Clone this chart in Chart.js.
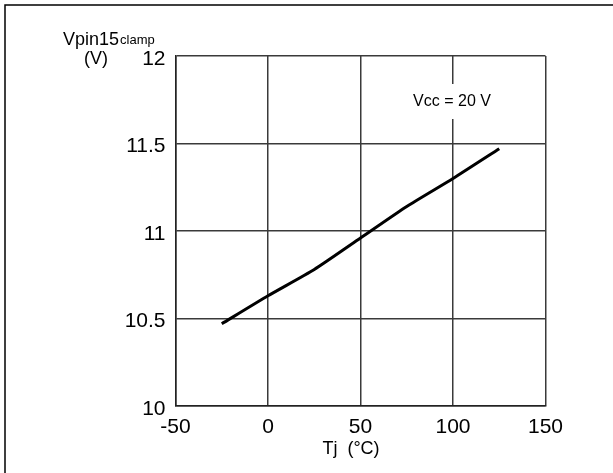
<!DOCTYPE html>
<html>
<head>
<meta charset="utf-8">
<script src="https://cdn.jsdelivr.net/npm/chart.js@4"></script>
<style>
  html, body { margin: 0; padding: 0; background: #fff; }
  #wrap { width: 613px; height: 473px; }
</style>
</head>
<body>
<div id="wrap"><canvas id="clampChart" width="613" height="473"></canvas></div>
<script>
// Vpin15 clamp vs junction temperature, Vcc = 20 V
const tjValues = [-25, 0, 25, 50, 75, 100, 125];
const vclampValues = [10.47, 10.63, 10.78, 10.96, 11.14, 11.30, 11.47];
const xTicks = [-50, 0, 50, 100, 150];
const yTicks = [10, 10.5, 11, 11.5, 12];

const FONT = "'Liberation Sans', Arial, Helvetica, sans-serif";

const labelsPlugin = {
  id: 'labels',
  afterDatasetsDraw(chart) {
    const ctx = chart.ctx;
    ctx.save();

    // outer frame (only top and left edges show)
    ctx.strokeStyle = '#000';
    ctx.lineWidth = 1.5;
    ctx.beginPath();
    ctx.moveTo(5, 473);
    ctx.lineTo(5, 5);
    ctx.lineTo(613, 5);
    ctx.stroke();

    // y axis title
    ctx.fillStyle = '#000';
    ctx.textBaseline = 'alphabetic';
    ctx.textAlign = 'left';
    ctx.font = '18px ' + FONT;
    ctx.fillText('Vpin15', 63, 44.5);
    const w = ctx.measureText('Vpin15').width;
    ctx.font = '13px ' + FONT;
    ctx.fillText('clamp', 63 + w + 1, 43.5);
    ctx.font = '18px ' + FONT;
    ctx.textAlign = 'center';
    ctx.fillText('(V)', 96, 64);

    // x axis title
    ctx.font = '18px ' + FONT;
    ctx.fillText('Tj  (°C)', 351, 454);

    // condition note, masking the grid behind it
    ctx.fillStyle = '#fff';
    ctx.fillRect(405, 84, 93, 35);
    ctx.fillStyle = '#000';
    ctx.font = '16px ' + FONT;
    ctx.textBaseline = 'middle';
    ctx.fillText('Vcc = 20 V', 452, 102);

    ctx.restore();
  }
};

new Chart(document.getElementById('clampChart'), {
  type: 'line',
  data: {
    datasets: [{
      data: tjValues.map((t, i) => ({ x: t, y: vclampValues[i] })),
      borderColor: '#000',
      borderWidth: 3,
      pointRadius: 0,
      tension: 0.2,
      fill: false
    }]
  },
  options: {
    responsive: false,
    animation: false,
    layout: { padding: { top: 56, right: 67.5, left: 0, bottom: 0 } },
    plugins: {
      legend: { display: false },
      tooltip: { enabled: false }
    },
    scales: {
      x: {
        type: 'linear',
        min: -50,
        max: 150,
        afterBuildTicks: axis => { axis.ticks = xTicks.map(v => ({ value: v })); },
        afterFit: axis => { axis.height = 67; },
        grid: { color: '#3a3a3a', lineWidth: 1.5, drawTicks: false },
        border: { color: '#222', width: 1.5 },
        ticks: { color: '#000', font: { family: FONT, size: 21 }, padding: 9, maxRotation: 0 }
      },
      y: {
        type: 'linear',
        min: 10,
        max: 12,
        afterBuildTicks: axis => { axis.ticks = yTicks.map(v => ({ value: v })); },
        afterFit: axis => { axis.width = 175.5; },
        grid: { color: '#3a3a3a', lineWidth: 1.5, drawTicks: false },
        border: { color: '#222', width: 1.5 },
        ticks: {
          color: '#000',
          font: { family: FONT, size: 21 },
          padding: 10,
          labelOffset: 3,
          callback: v => String(v)
        }
      }
    }
  },
  plugins: [labelsPlugin]
});
</script>
</body>
</html>
